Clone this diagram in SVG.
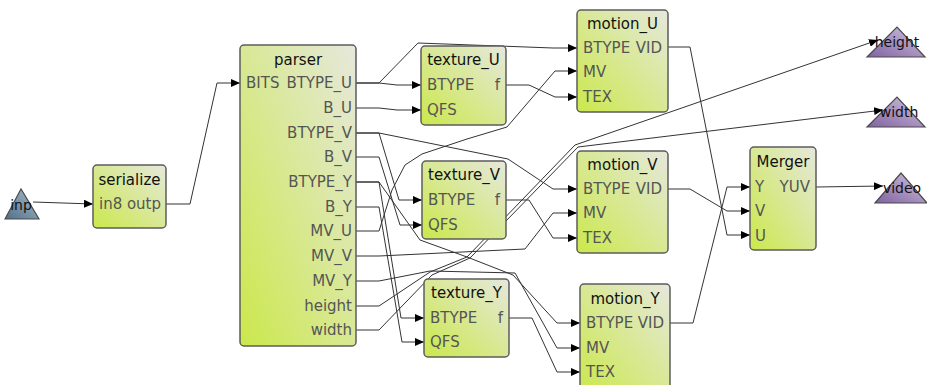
<svg xmlns="http://www.w3.org/2000/svg" width="927" height="385" viewBox="0 0 927 385">
  <defs>
    <linearGradient id="actorFill" x1="1" y1="0" x2="0" y2="1">
      <stop offset="0" stop-color="#e6e8dc"/>
      <stop offset="1" stop-color="#cbe84c"/>
    </linearGradient>
    <linearGradient id="inFill" x1="1" y1="0" x2="0" y2="1">
      <stop offset="0" stop-color="#a9bfce"/>
      <stop offset="1" stop-color="#4f6f88"/>
    </linearGradient>
    <linearGradient id="outFill" x1="1" y1="0" x2="0" y2="1">
      <stop offset="0" stop-color="#d2c4e0"/>
      <stop offset="1" stop-color="#7f62a0"/>
    </linearGradient>
    <marker id="arrow" markerUnits="userSpaceOnUse" markerWidth="10" markerHeight="8" refX="9" refY="4" orient="auto">
      <path d="M0,0 L9,4 L0,8 z" fill="#000"/>
    </marker>
  </defs>
  <style>
    .box { fill: url(#actorFill); stroke: #5c5c5c; stroke-width: 1.5; }
    .tin { fill: url(#inFill); stroke: #4a4a4a; stroke-width: 1.2; }
    .tout { fill: url(#outFill); stroke: #4a4a4a; stroke-width: 1.2; }
    .title { font-family: "DejaVu Sans", sans-serif; font-size: 15px; fill: #111; text-anchor: middle; }
    .port { font-family: "DejaVu Sans", sans-serif; font-size: 15px; fill: #555; }
    .r { text-anchor: end; }
    .tl { font-family: "DejaVu Sans", sans-serif; font-size: 14px; fill: #111; text-anchor: middle; }
    .edge { fill: none; stroke: #333; stroke-width: 1; marker-end: url(#arrow); }
  </style>

  <g id="connectors">
    <path class="edge" d="M33,202 L93,204"/>
    <path class="edge" d="M166,204 L190,204 L217,83 L240,83"/>
    <path class="edge" d="M356,83 L379,83 L397,85 L421,85"/>
    <path class="edge" d="M356,83 L379,83 L418,43 L553,48 L577,48"/>
    <path class="edge" d="M356,108 L379,108 L397,110 L421,110"/>
    <path class="edge" d="M506,85 L529,85 L555,97 L577,97"/>
    <path class="edge" d="M356,231 L379,231 L392,190 L405,165 L422,154 L467,139 L507,127 L555,71 L577,71"/>
    <path class="edge" d="M356,133 L379,133 L399,200 L422,200"/>
    <path class="edge" d="M356,133 L379,133 L508,159 L553,189 L577,189"/>
    <path class="edge" d="M356,157 L379,157 L400,225 L422,225"/>
    <path class="edge" d="M506,200 L529,200 L553,238 L577,238"/>
    <path class="edge" d="M356,256 L379,256 L525,249 L553,213 L577,213"/>
    <path class="edge" d="M356,182 L379,182 L401,318 L424,318"/>
    <path class="edge" d="M356,207 L379,207 L402,342 L424,342"/>
    <path class="edge" d="M356,182 L379,182 L420,240 L467,257 L513,275 L557,323 L580,323"/>
    <path class="edge" d="M356,281 L379,281 L430,271 L515,273 L557,348 L580,348"/>
    <path class="edge" d="M509,318 L532,318 L557,372 L580,372"/>
    <path class="edge" d="M356,306 L379,306 L430,272 L467,257 L575,145 L878,40"/>
    <path class="edge" d="M356,330 L379,330 L432,275 L470,258 L578,147 L883,110"/>
    <path class="edge" d="M668,47 L690,47 L727,235 L750,235"/>
    <path class="edge" d="M668,189 L690,189 L727,211 L750,211"/>
    <path class="edge" d="M670,323 L693,323 L727,187 L750,187"/>
    <path class="edge" d="M816,187 L883,186"/>
  </g>

  <g id="inp">
    <polygon class="tin" points="5,219 21,189 39,219"/>
    <text class="tl" x="21" y="210">inp</text>
  </g>

  <g id="serialize">
    <rect class="box" x="93" y="165" width="73" height="63" rx="4"/>
    <text class="title" x="129.5" y="185">serialize</text>
    <text class="port" x="99" y="209">in8</text>
    <text class="port r" x="161" y="209">outp</text>
  </g>

  <g id="parser">
    <rect class="box" x="240" y="45" width="116" height="301" rx="4"/>
    <text class="title" x="298" y="65">parser</text>
    <text class="port" x="246" y="88">BITS</text>
    <text class="port r" x="352" y="88">BTYPE_U</text>
    <text class="port r" x="352" y="113">B_U</text>
    <text class="port r" x="352" y="138">BTYPE_V</text>
    <text class="port r" x="352" y="162">B_V</text>
    <text class="port r" x="352" y="187">BTYPE_Y</text>
    <text class="port r" x="352" y="212">B_Y</text>
    <text class="port r" x="352" y="236">MV_U</text>
    <text class="port r" x="352" y="261">MV_V</text>
    <text class="port r" x="352" y="286">MV_Y</text>
    <text class="port r" x="352" y="311">height</text>
    <text class="port r" x="352" y="335">width</text>
  </g>

  <g id="texture_U">
    <rect class="box" x="421" y="46" width="85" height="79" rx="4"/>
    <text class="title" x="463.5" y="65">texture_U</text>
    <text class="port" x="427" y="90">BTYPE</text>
    <text class="port r" x="500" y="90">f</text>
    <text class="port" x="427" y="115">QFS</text>
  </g>

  <g id="texture_V">
    <rect class="box" x="422" y="161" width="84" height="78" rx="4"/>
    <text class="title" x="464" y="180">texture_V</text>
    <text class="port" x="428" y="205">BTYPE</text>
    <text class="port r" x="500" y="205">f</text>
    <text class="port" x="428" y="230">QFS</text>
  </g>

  <g id="texture_Y">
    <rect class="box" x="424" y="279" width="85" height="78" rx="4"/>
    <text class="title" x="466.5" y="298">texture_Y</text>
    <text class="port" x="430" y="323">BTYPE</text>
    <text class="port r" x="503" y="323">f</text>
    <text class="port" x="430" y="347">QFS</text>
  </g>

  <g id="motion_U">
    <rect class="box" x="577" y="10" width="91" height="102" rx="4"/>
    <text class="title" x="622.5" y="29">motion_U</text>
    <text class="port" x="583" y="53">BTYPE</text>
    <text class="port r" x="662" y="53">VID</text>
    <text class="port" x="583" y="77">MV</text>
    <text class="port" x="583" y="102">TEX</text>
  </g>

  <g id="motion_V">
    <rect class="box" x="577" y="151" width="91" height="102" rx="4"/>
    <text class="title" x="622.5" y="170">motion_V</text>
    <text class="port" x="583" y="194">BTYPE</text>
    <text class="port r" x="662" y="194">VID</text>
    <text class="port" x="583" y="218">MV</text>
    <text class="port" x="583" y="243">TEX</text>
  </g>

  <g id="motion_Y">
    <rect class="box" x="580" y="284" width="90" height="110" rx="4"/>
    <text class="title" x="625" y="304">motion_Y</text>
    <text class="port" x="586" y="328">BTYPE</text>
    <text class="port r" x="664" y="328">VID</text>
    <text class="port" x="586" y="353">MV</text>
    <text class="port" x="586" y="377">TEX</text>
  </g>

  <g id="Merger">
    <rect class="box" x="750" y="147" width="66" height="103" rx="4"/>
    <text class="title" x="783" y="167">Merger</text>
    <text class="port" x="755" y="192">Y</text>
    <text class="port r" x="810" y="192">YUV</text>
    <text class="port" x="755" y="216">V</text>
    <text class="port" x="755" y="241">U</text>
  </g>

  <g id="height">
    <polygon class="tout" points="867,57 897,27 925,57"/>
    <text class="tl" x="897" y="47">height</text>
  </g>

  <g id="width">
    <polygon class="tout" points="867,127 897,97 925,127"/>
    <text class="tl" x="899" y="117">width</text>
  </g>

  <g id="video">
    <polygon class="tout" points="875,203 901,173 927,203"/>
    <text class="tl" x="902" y="193">video</text>
  </g>
</svg>
